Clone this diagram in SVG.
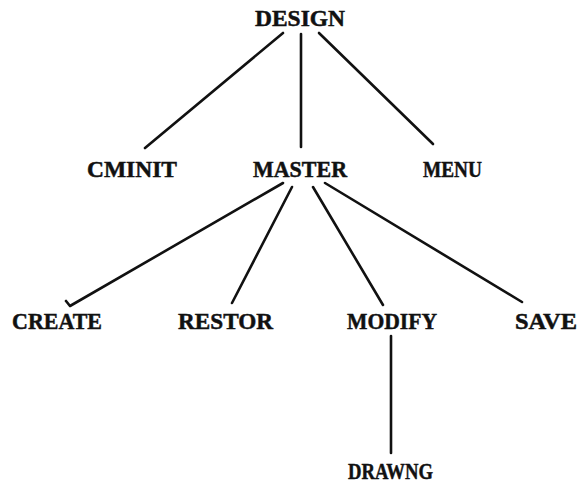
<svg xmlns="http://www.w3.org/2000/svg" width="578" height="485" viewBox="0 0 578 485">
<style>
text{font-family:"Liberation Serif","Times New Roman",serif;font-weight:bold;font-size:24px;fill:#111;stroke:#111;stroke-width:0.5}
.c{stroke:#111;stroke-width:2.6;fill:none;stroke-linecap:round;stroke-linejoin:round}
</style>
<rect width="578" height="485" fill="#fff"/>
<g id="connectors">
<line class="c" x1="283" y1="33" x2="145" y2="148"/>
<line class="c" x1="301" y1="34" x2="301" y2="147"/>
<line class="c" x1="319" y1="33" x2="433" y2="144"/>
<polyline class="c" points="66,301 70,306 283,183"/>
<line class="c" x1="292" y1="187" x2="232" y2="303"/>
<line class="c" x1="313" y1="187" x2="383" y2="305"/>
<line class="c" x1="325" y1="183" x2="522" y2="302"/>
<line class="c" x1="391" y1="336" x2="391" y2="453"/>
</g>
<g id="DESIGN"><text x="255" y="26" textLength="90" lengthAdjust="spacingAndGlyphs">DESIGN</text></g>
<g id="CMINIT"><text x="87" y="177" textLength="90" lengthAdjust="spacingAndGlyphs">CMINIT</text></g>
<g id="MASTER"><text x="253" y="177" textLength="94" lengthAdjust="spacingAndGlyphs">MASTER</text></g>
<g id="MENU"><text x="423" y="177" textLength="59" lengthAdjust="spacingAndGlyphs">MENU</text></g>
<g id="CREATE"><text x="12" y="329" textLength="90" lengthAdjust="spacingAndGlyphs">CREATE</text></g>
<g id="RESTOR"><text x="178" y="329" textLength="95" lengthAdjust="spacingAndGlyphs">RESTOR</text></g>
<g id="MODIFY"><text x="347" y="329" textLength="90" lengthAdjust="spacingAndGlyphs">MODIFY</text></g>
<g id="SAVE"><text x="515" y="329" textLength="62" lengthAdjust="spacingAndGlyphs">SAVE</text></g>
<g id="DRAWNG"><text x="348" y="479" textLength="85" lengthAdjust="spacingAndGlyphs">DRAWNG</text></g>
</svg>
